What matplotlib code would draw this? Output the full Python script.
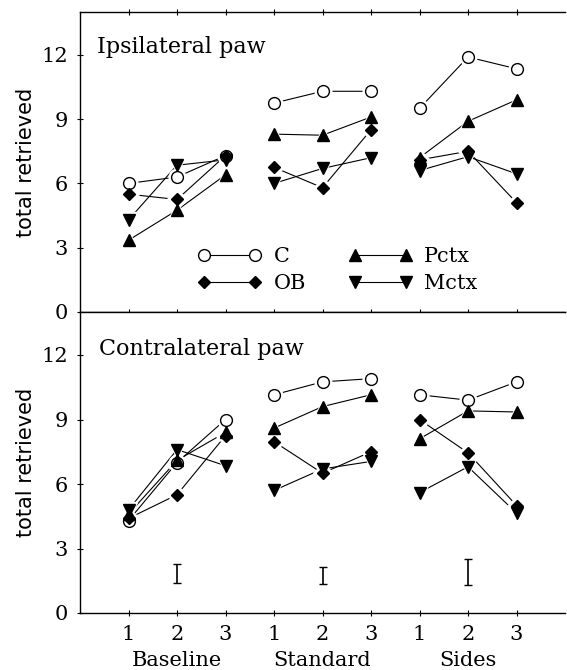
import matplotlib
matplotlib.use("Agg")
import matplotlib.pyplot as plt
import numpy as np
from matplotlib.lines import Line2D

# ---- data ----
sessions = [1, 2, 3, 4, 5, 6, 7, 8, 9]
session_labels = ["1", "2", "3", "1", "2", "3", "1", "2", "3"]
phases = ["Baseline", "Standard", "Sides"]
groups = ["C", "OB", "Pctx", "Mctx"]

ipsi = {
    "C":    [6.0, 6.3, 7.3, 9.75, 10.3, 10.3, 9.5, 11.9, 11.35],
    "OB":   [5.5, 5.25, 7.3, 6.75, 5.8, 8.5, 7.1, 7.5, 5.1],
    "Pctx": [3.35, 4.75, 6.4, 8.3, 8.25, 9.1, 7.2, 8.9, 9.9],
    "Mctx": [4.3, 6.85, 7.1, 6.0, 6.7, 7.2, 6.6, 7.25, 6.45],
}
contra = {
    "C":    [4.3, 7.0, 9.0, 10.15, 10.75, 10.9, 10.15, 9.9, 10.75],
    "OB":   [4.4, 5.5, 8.25, 7.97, 6.5, 7.5, 9.0, 7.45, 5.0],
    "Pctx": [4.6, 7.1, 8.4, 8.6, 9.6, 10.15, 8.1, 9.4, 9.35],
    "Mctx": [4.8, 7.6, 6.85, 5.7, 6.7, 7.05, 5.6, 6.8, 4.65],
}
err_x = [2, 5, 8]
err_center = [1.85, 1.75, 1.9]
err_half = [0.45, 0.4, 0.62]

markers = {"C": "o", "OB": "D", "Pctx": "^", "Mctx": "v"}
msizes = {"C": 8.5, "OB": 6.2, "Pctx": 8.5, "Mctx": 8.5}
fills = {"C": "white", "OB": "black", "Pctx": "black", "Mctx": "black"}

serif = "DejaVu Serif"
fs = 15

fig = plt.figure(figsize=(5.67, 6.70), dpi=100)
L, R = 80 / 567, 565 / 567
ax1 = fig.add_axes([L, 1 - 312 / 670, R - L, 300 / 670])
ax2 = fig.add_axes([L, 1 - 613 / 670, R - L, 301 / 670])


def draw(ax, data):
    x = np.array(sessions)
    for g in groups:
        y = np.array(data[g])
        for k in range(3):
            sl = slice(3 * k, 3 * k + 3)
            ax.plot(x[sl], y[sl], color="black", lw=0.8, zorder=2)
    # white halos to create gaps between lines and markers
    for g in groups:
        y = np.array(data[g])
        ax.plot(x, y, ls="none", marker=markers[g], ms=msizes[g] + 3.5,
                mfc="white", mec="white", zorder=3)
    for g in groups:
        y = np.array(data[g])
        ax.plot(x, y, ls="none", marker=markers[g], ms=msizes[g],
                mfc=fills[g], mec="black", mew=1.0, zorder=4)
    ax.set_xlim(0, 10)
    ax.set_ylim(0, 14)
    ax.set_yticks([0, 3, 6, 9, 12])
    ax.set_xticks(sessions)
    ax.spines["right"].set_visible(False)
    for s in ax.spines.values():
        s.set_linewidth(1.0)
    ax.tick_params(direction="inout", length=5, width=0.8,
                   labelsize=fs, pad=6)
    for lab in ax.get_yticklabels():
        lab.set_fontfamily(serif)
    ax.set_ylabel("total retrieved", fontsize=fs, family="DejaVu Sans",
                  labelpad=4)


draw(ax1, ipsi)
draw(ax2, contra)

ax1.tick_params(axis="x", top=True, labelbottom=False)
ax2.tick_params(axis="x", labelbottom=True)
ax2.set_xticklabels(session_labels, family=serif)
for i, ph in enumerate(phases):
    ax2.text(sessions[3 * i + 1], -0.157, ph, transform=ax2.get_xaxis_transform(),
             ha="center", va="center", fontsize=fs, family=serif)

ax1.text(0.035, 0.885, "Ipsilateral paw", transform=ax1.transAxes,
         fontsize=16, family=serif, va="center", ha="left")
ax2.text(0.04, 0.877, "Contralateral paw", transform=ax2.transAxes,
         fontsize=16, family=serif, va="center", ha="left")

ax2.errorbar(err_x, err_center, yerr=err_half, fmt="none", ecolor="black",
             elinewidth=1.2, capsize=3, capthick=1.0)

# legend
handles = []
for g in groups:
    handles.append(Line2D([], [], color="black", lw=0.8, marker=markers[g],
                          ms=msizes[g], mfc=fills[g], mec="black"))
leg = ax1.legend(handles, groups,
                 ncol=2, numpoints=2, frameon=False, loc="lower left",
                 bbox_to_anchor=(0.205, 0.0), handlelength=3.05,
                 columnspacing=2.0, handletextpad=0.6, labelspacing=0.4,
                 prop={"family": serif, "size": fs})

fig.savefig("out.png", dpi=100)
